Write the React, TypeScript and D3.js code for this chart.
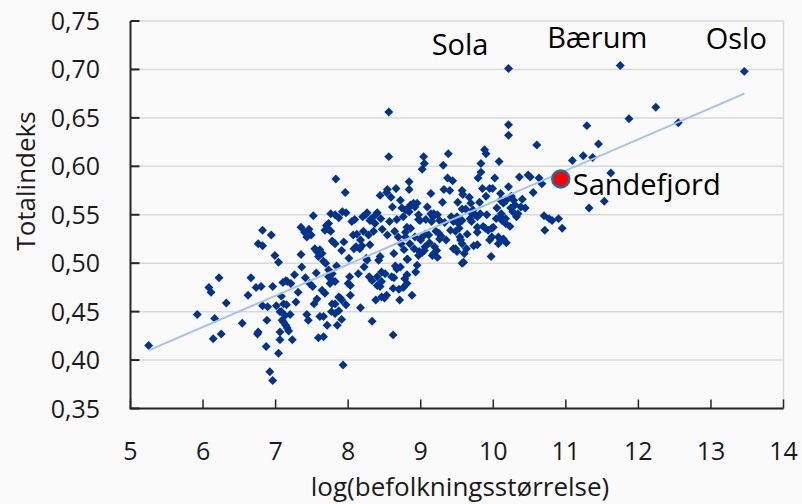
import React from "react";
import * as d3 from "d3";

// x: log(befolkningsstørrelse), y: Totalindeks
const points: [number, number][] = [
  [5.25,0.415],[5.92,0.447],[6.08,0.475],[6.11,0.470],[6.22,0.485],[6.16,0.443],[6.14,0.422],[6.25,0.427],
  [6.32,0.459],[6.54,0.438],[6.62,0.467],[6.66,0.485],[6.73,0.475],[6.75,0.427],[6.76,0.429],[6.82,0.534],
  [6.76,0.520],[6.82,0.518],[6.80,0.476],[6.82,0.456],[6.87,0.414],[6.88,0.441],[6.92,0.388],[6.96,0.379],
  [6.94,0.529],[6.99,0.508],[7.04,0.501],[6.96,0.476],[7.01,0.456],[7.06,0.429],[7.04,0.407],[7.08,0.466],
  [7.10,0.480],[7.14,0.482],[7.16,0.481],[7.21,0.479],[7.08,0.450],[7.11,0.458],[7.15,0.457],[7.11,0.439],
  [7.14,0.436],[7.16,0.433],[7.18,0.430],[7.20,0.447],[7.23,0.421],[7.26,0.488],[7.28,0.460],[7.31,0.470],
  [7.35,0.509],[7.35,0.537],[7.36,0.496],[7.40,0.532],[7.46,0.535],[7.49,0.529],[7.43,0.527],[7.41,0.485],
  [7.43,0.447],[7.45,0.441],[7.47,0.479],[7.51,0.476],[7.52,0.549],[7.53,0.458],[7.54,0.515],[7.57,0.512],
  [7.61,0.514],[7.59,0.507],[7.64,0.510],[7.56,0.490],[7.57,0.463],[7.59,0.423],[7.66,0.424],[7.61,0.445],
  [7.66,0.445],[7.64,0.472],[7.68,0.469],[7.69,0.500],[7.70,0.539],[7.73,0.535],[7.76,0.533],[7.71,0.436],
  [7.73,0.486],[7.77,0.483],[7.78,0.489],[7.82,0.481],[7.75,0.479],[7.76,0.551],[7.78,0.523],[7.82,0.520],
  [7.77,0.450],[7.82,0.458],[7.83,0.587],[7.84,0.497],[7.82,0.550],[7.87,0.547],[7.85,0.436],[7.87,0.451],
  [7.89,0.464],[7.91,0.513],[7.92,0.553],[7.97,0.552],[7.91,0.442],[7.93,0.395],[7.94,0.522],[7.96,0.573],
  [7.97,0.457],[8.00,0.479],[8.02,0.486],[8.03,0.477],[8.01,0.505],[8.03,0.467],[8.07,0.529],[8.05,0.543],
  [8.09,0.545],[8.08,0.515],[8.11,0.517],[8.14,0.489],[8.17,0.454],[8.16,0.515],[8.19,0.518],[8.21,0.533],
  [8.22,0.496],[8.24,0.550],[8.26,0.552],[8.25,0.505],[8.28,0.529],[8.29,0.486],[8.32,0.546],[8.33,0.440],
  [8.33,0.482],[8.35,0.533],[8.37,0.541],[8.38,0.550],[8.40,0.552],[8.38,0.462],[8.40,0.486],[8.42,0.503],
  [8.44,0.570],[8.44,0.476],[8.46,0.481],[8.46,0.465],[8.47,0.535],[8.50,0.464],[8.53,0.573],[8.54,0.576],
  [8.54,0.529],[8.56,0.656],[8.56,0.610],[8.57,0.543],[8.59,0.568],[8.61,0.558],[8.62,0.426],[8.63,0.510],
  [8.64,0.533],[8.63,0.485],[8.65,0.497],[8.66,0.577],[8.67,0.545],[8.69,0.527],[8.70,0.473],[8.72,0.496],
  [8.71,0.462],[8.73,0.520],[8.76,0.548],[8.77,0.514],[8.78,0.484],[8.79,0.532],[8.81,0.479],[8.82,0.504],
  [8.84,0.584],[8.84,0.553],[8.84,0.576],[8.85,0.520],[8.88,0.467],[8.90,0.562],[8.91,0.515],[8.93,0.491],
  [8.95,0.498],[8.97,0.545],[8.98,0.512],[9.00,0.524],[9.02,0.597],[9.04,0.610],[9.05,0.603],[9.05,0.513],
  [9.07,0.545],[9.09,0.558],[9.11,0.529],[9.14,0.572],[9.14,0.551],[9.16,0.508],[9.17,0.548],[9.19,0.517],
  [9.21,0.533],[9.23,0.550],[9.23,0.506],[9.25,0.531],[9.28,0.528],[9.30,0.563],[9.31,0.601],[9.32,0.576],
  [9.33,0.542],[9.35,0.524],[9.37,0.588],[9.38,0.613],[9.40,0.575],[9.42,0.548],[9.44,0.585],[9.45,0.515],
  [9.48,0.533],[9.50,0.548],[9.51,0.563],[9.53,0.536],[9.55,0.524],[9.57,0.575],[9.58,0.571],[9.59,0.501],
  [9.60,0.510],[9.62,0.556],[9.63,0.515],[9.64,0.530],[9.67,0.568],[9.69,0.562],[9.70,0.543],[9.72,0.555],
  [9.73,0.518],[9.75,0.550],[9.78,0.532],[9.79,0.588],[9.81,0.563],[9.83,0.594],[9.83,0.603],[9.85,0.577],
  [9.86,0.538],[9.88,0.617],[9.90,0.613],[9.90,0.569],[9.91,0.550],[9.93,0.534],[9.95,0.524],[9.95,0.577],
  [9.97,0.507],[9.99,0.577],[10.00,0.537],[10.02,0.588],[10.04,0.546],[10.05,0.557],[10.07,0.527],[10.08,0.605],
  [10.10,0.572],[10.11,0.551],[10.12,0.544],[10.14,0.562],[10.17,0.541],[10.18,0.565],[10.21,0.701],[10.21,0.643],
  [10.21,0.632],[10.21,0.579],[10.24,0.557],[10.25,0.569],[10.28,0.565],[10.32,0.548],[10.34,0.551],[10.36,0.589],
  [10.38,0.558],[10.44,0.557],[10.48,0.591],[10.51,0.589],[10.55,0.573],[10.60,0.622],[10.63,0.588],[10.67,0.582],
  [10.70,0.549],[10.71,0.534],[10.77,0.546],[10.81,0.544],[10.90,0.546],[10.95,0.536],[11.09,0.606],[11.24,0.611],
  [11.29,0.642],[11.32,0.557],[11.37,0.609],[11.45,0.623],[11.53,0.564],[11.62,0.593],[11.75,0.704],[11.87,0.649],
  [12.24,0.661],[12.55,0.645],[13.46,0.698],
  [8.95,0.562],[8.20,0.548],[8.45,0.546],[8.30,0.544],[8.12,0.530],[7.73,0.541],[7.68,0.534],[7.66,0.502],
  [7.73,0.493],[7.87,0.465],[7.91,0.462],[7.78,0.458],[7.82,0.448],[8.17,0.524],[8.30,0.519],[8.26,0.503],
  [8.44,0.507],[8.46,0.491],[8.40,0.477],[8.51,0.489],[8.60,0.486],[8.67,0.494],[8.81,0.504],[8.81,0.488],
  [8.76,0.475],[8.62,0.474],[8.53,0.467],[8.97,0.508],[9.06,0.517],[9.06,0.530],[6.89,0.455],[7.06,0.450],
  [7.09,0.441],[7.13,0.446],[7.06,0.421],[10.10,0.565],[8.83,0.557],[8.86,0.560],[8.92,0.558],[8.97,0.550],
  [9.18,0.551],[9.26,0.544],[8.72,0.565],[8.74,0.557],[8.79,0.555],[9.15,0.543],[8.99,0.544],[8.81,0.537],
  [8.86,0.536],[8.79,0.527],[8.92,0.527],[9.02,0.511],[9.18,0.510],[9.22,0.513],[9.48,0.515],[9.50,0.512],
  [9.57,0.520],[9.54,0.527],[9.57,0.500],[9.41,0.534],[9.52,0.541],[9.57,0.544],[9.45,0.543],[9.57,0.556],
  [9.71,0.551],[9.68,0.546],[9.78,0.548],[9.82,0.551],[9.78,0.537],[9.89,0.536],[9.98,0.536],[9.78,0.519],
  [9.98,0.527],[10.10,0.524],[10.14,0.525],[10.07,0.520],[10.18,0.521],[10.10,0.548],[10.17,0.546],[10.23,0.538],
  [10.30,0.560],[10.40,0.566],[10.27,0.553],[9.02,0.527],[9.12,0.521],[9.26,0.525],
];

// linear trendline (start and end)
const trendX = [5.25, 13.46];
const trendY = [0.41, 0.675];

const xTicks = [5, 6, 7, 8, 9, 10, 11, 12, 13, 14];
const yTicks = [0.35, 0.4, 0.45, 0.5, 0.55, 0.6, 0.65, 0.7, 0.75];

const highlightNames = ["Sandefjord"];
const highlightX = [10.93];
const highlightY = [0.587];

const labelNames = ["Sola", "Bærum", "Oslo"];
const labelX = [10.21, 11.75, 13.46];
const labelY = [0.701, 0.704, 0.698];

const xTitle = "log(befolkningsstørrelse)";
const yTitle = "Totalindeks";

// layout
const W = 802, H = 504;
const PL = 130.5, PR = 783.5, PT = 21, PB = 408.5;
const FONT = "'Open Sans', 'Noto Sans', sans-serif";
const labelLayout = [
  { dx: -20, dy: -13, anchor: "end" },
  { dx: -23, dy: -17.5, anchor: "middle" },
  { dx: -8, dy: -22, anchor: "middle" },
];

export default function App() {
  const x = d3.scaleLinear().domain([5, 14]).range([PL, PR]);
  const y = d3.scaleLinear().domain([0.35, 0.75]).range([PB, PT]);

  const trend = d3.line<number>().x((_, i) => x(trendX[i])).y((v) => y(v))(trendY) as string;

  const diamond = d3.symbol(d3.symbolSquare, 40)() as string;
  const fmt = (v: number) => d3.format(".2f")(v).replace(".", ",");

  return (
    <svg width={W} height={H} style={{ position: "absolute", left: 0, top: 0, display: "block" }} fontFamily={FONT}>
      <rect x={0} y={0} width={W} height={H} fill="#fafafa" />
      {yTicks.map((t) => (
        <line key={"g" + t} x1={PL} x2={PR} y1={y(t)} y2={y(t)} stroke="#d9d9d9" strokeWidth={1.5} />
      ))}
      <line x1={PR} x2={PR} y1={PT} y2={PB} stroke="#d9d9d9" strokeWidth={1.5} />
      <line x1={PL} x2={PL} y1={PT} y2={PB} stroke="#262626" strokeWidth={2} />
      <line x1={PL - 1} x2={PR} y1={PB} y2={PB} stroke="#262626" strokeWidth={2} />
      {yTicks.map((t) => (
        <line key={"yt" + t} x1={PL} x2={PL + 9} y1={y(t)} y2={y(t)} stroke="#262626" strokeWidth={2} />
      ))}
      {xTicks.map((t) => (
        <line key={"xt" + t} x1={x(t)} x2={x(t)} y1={PB} y2={PB - 9} stroke="#262626" strokeWidth={1.5} />
      ))}
      {yTicks.map((t) => (
        <text key={"yl" + t} x={100} y={y(t) + 9} textAnchor="end" fontSize={25} fill="#1a1a1a">
          {fmt(t)}
        </text>
      ))}
      {xTicks.map((t) => (
        <text key={"xl" + t} x={x(t)} y={460} textAnchor="middle" fontSize={25} fill="#1a1a1a">
          {t}
        </text>
      ))}
      <text x={460} y={496} textAnchor="middle" fontSize={26} fill="#1a1a1a">{xTitle}</text>
      <text transform={`translate(35,181) rotate(-90)`} textAnchor="middle" fontSize={26} fill="#1a1a1a">{yTitle}</text>
      {points.map((p, i) => (
        <path key={i} d={diamond} transform={`translate(${x(p[0])},${y(p[1])}) rotate(45)`} fill="#00338d" />
      ))}
      <path d={trend} stroke="#a4c2ec" strokeWidth={2} fill="none" />
      {highlightNames.map((n, i) => (
        <g key={n}>
          <circle cx={x(highlightX[i])} cy={y(highlightY[i])} r={8.5} fill="#ff0000" stroke="#1f6f9f" strokeWidth={2.5} />
          <text x={x(highlightX[i]) + 12} y={y(highlightY[i]) + 16} fontSize={29} fill="#000">{n}</text>
        </g>
      ))}
      {labelNames.map((n, i) => (
        <text key={n} x={x(labelX[i]) + labelLayout[i].dx} y={y(labelY[i]) + labelLayout[i].dy}
          textAnchor={labelLayout[i].anchor as any} fontSize={29} fill="#000">{n}</text>
      ))}
    </svg>
  );
}
